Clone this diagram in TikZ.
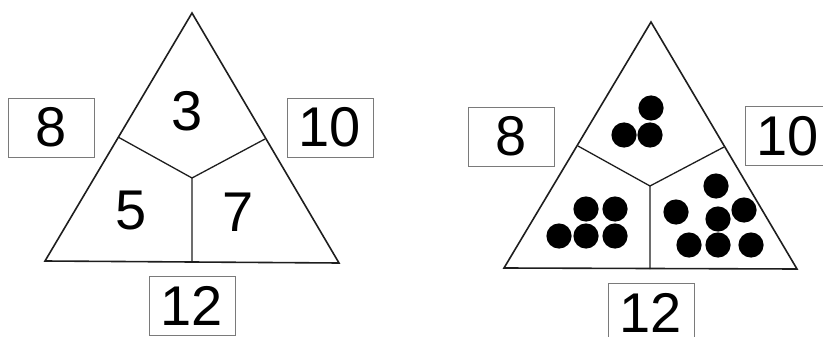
\documentclass[tikz,border=0pt]{standalone}
\usepackage{fontspec}
\setmainfont{Liberation Sans}
\definecolor{lineDark}{HTML}{1E1E1E}
\definecolor{boxGray}{HTML}{7A7A7A}
\tikzset{
  numfont/.style={font=\fontsize{56}{56}\selectfont},
  numbox/.style={numfont, draw=boxGray, line width=0.9pt, minimum width=86pt,
    minimum height=59pt, inner sep=0pt},
  numtext/.style={numfont, inner sep=0pt},
  triside/.style={draw=lineDark, line width=1.6pt, line join=miter},
  triwall/.style={draw=lineDark, line width=1.3pt},
  dot/.style={fill=black}
}

\begin{document}
\begin{tikzpicture}[x=1pt, y=-1pt]
    \useasboundingbox (0,0) rectangle (823,337);

    % left triangle with numbers
    \coordinate (lTop) at (192,13);
    \coordinate (lLeft) at (45,261);
    \coordinate (lRight) at (339,263);
    \coordinate (lSideL) at (118,137);
    \coordinate (lSideR) at (265,139);
    \coordinate (lMid) at (192,178);
    \coordinate (lBase) at (192,262);
    \draw[triside] (lTop) -- (lLeft) -- (lRight) -- cycle;
    \draw[triwall] (lSideL) -- (lMid) -- (lSideR) (lMid) -- (lBase);

    \node[numtext] (lThree) at (187,111) {3};
    \node[numtext] (lFive) at (131,211) {5};
    \node[numtext] (lSeven) at (238,212) {7};

    \node[numbox] (lEight) at (51,127.5) {8};
    \node[numbox] (lTen) at (330,127.5) {10};
    \node[numbox] (lTwelve) at (192,305.5) {12};

    % right triangle with dots
    \coordinate (rTop) at (651,22);
    \coordinate (rLeft) at (504,268);
    \coordinate (rRight) at (797,269);
    \coordinate (rSideL) at (578,146);
    \coordinate (rSideR) at (724,147);
    \coordinate (rMid) at (650,186);
    \coordinate (rBase) at (650,269);
    \draw[triside] (rTop) -- (rLeft) -- (rRight) -- cycle;
    \draw[triwall] (rSideL) -- (rMid) -- (rSideR) (rMid) -- (rBase);

    \foreach \p in {(651,108),(624,135),(650,135)}
      \fill[dot] \p circle[radius=12.6];
    \foreach \p in {(586,209),(615,209),(559,236),(586,236),(615,236)}
      \fill[dot] \p circle[radius=12.6];
    \foreach \p in {(716,186),(676,212),(744,210),(718,219),(689,245),(718,245),(751,245)}
      \fill[dot] \p circle[radius=12.6];

    \node[numbox] (rEight) at (511,136.5) {8};
    \node[numbox] (rTen) at (788,136) {10};
    \node[numbox] (rTwelve) at (651,313) {12};
\end{tikzpicture}
\end{document}
